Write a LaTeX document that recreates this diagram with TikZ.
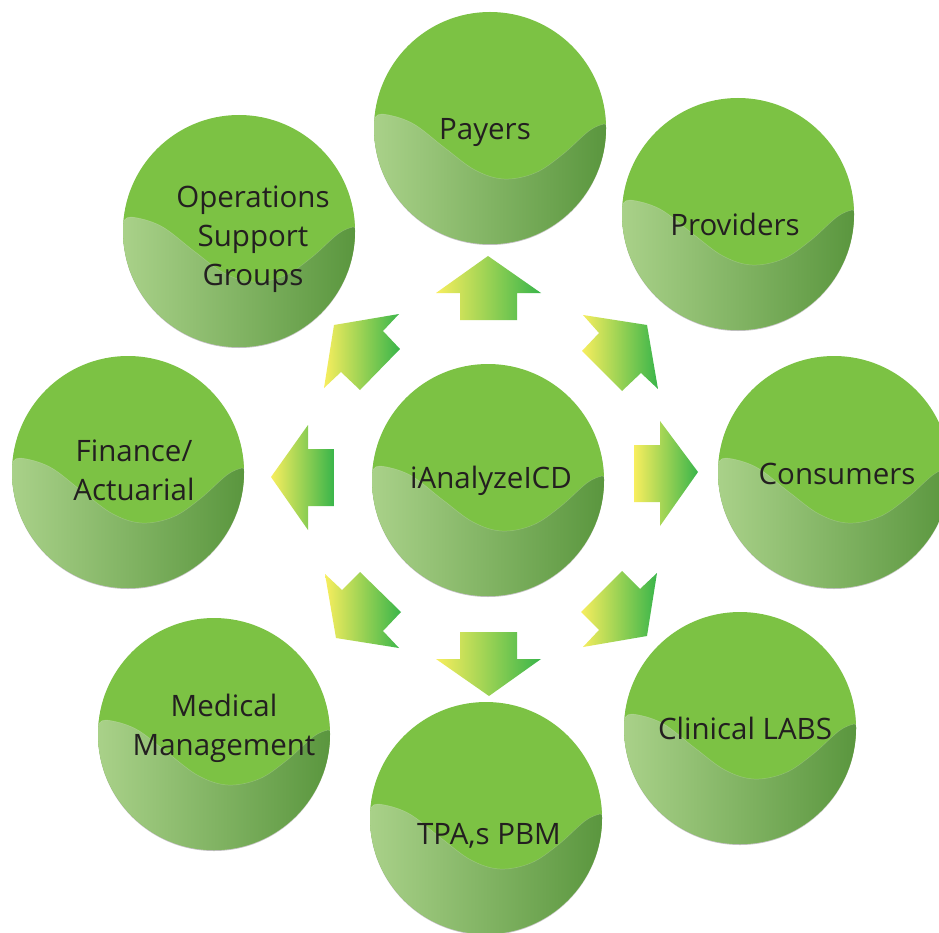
\documentclass[tikz,border=0pt]{standalone}
\usepackage{fontspec}
\setmainfont{Open Sans}
\definecolor{discgreen}{HTML}{7CC244}
\definecolor{waveleft}{HTML}{A9D189}
\definecolor{waveright}{HTML}{5A963E}
\definecolor{arrowyellow}{HTML}{F8EE5E}
\definecolor{arrowgreen}{HTML}{39B54A}
\definecolor{inkdark}{HTML}{231F20}
\tikzset{
  disc/.style={fill=discgreen},
  discshadow/.style={fill=black!25},
  waveedge/.style={draw=white,draw opacity=.2,line width=.5pt},
  flow/.style={left color=arrowyellow,right color=arrowgreen},
  label/.style={text=inkdark,align=center,font=\fontsize{29.5}{39}\selectfont,inner sep=0pt},
}
\newcommand{\bubble}[3]{%
  \begin{scope}[shift={(#2,#3)}]
    \fill[discshadow] (0,1) circle (116);
    \fill[disc] (0,0) coordinate (#1) circle (116);
    \begin{scope}
      \clip (0,0) circle (116);
      \shade[left color=waveleft,right color=waveright]
        (-116,-8) -- plot[smooth,tension=.6] coordinates {(-116,-8) (-108,-14) (-78,-5) (-45,20) (-15,42) (14,51) (45,45) (72,27) (99,3) (114,-4) (116,-2)}
        -- (116,116) -- (-116,116) -- cycle;
      \draw[waveedge] plot[smooth,tension=.6] coordinates {(-116,-8) (-108,-14) (-78,-5) (-45,20) (-15,42) (14,51) (45,45) (72,27) (99,3) (114,-4) (116,-2)};
    \end{scope}
  \end{scope}}
\begin{document}
\begin{tikzpicture}[x=1pt,y=-1pt]
\useasboundingbox (0,0) rectangle (939,933);
\clip (0,0) rectangle (939,933);
\fill[white] (0,0) rectangle (939,933);
\bubble{payersdisc}{490}{128}
\bubble{providersdisc}{738}{214}
\bubble{consumersdisc}{834}{472}
\bubble{clinicaldisc}{740}{728}
\bubble{tpadisc}{486}{818}
\bubble{medicaldisc}{214}{734}
\bubble{financedisc}{128}{472}
\bubble{operationsdisc}{239}{231}
\bubble{centerdisc}{488}{480}
% arrows
\shade[flow] (488,256) -- (541,293) -- (517,293) -- (517,320) -- (460,320) -- (460,293) -- (436,293) -- cycle;
\shade[flow] (583,315) -- (647,325) -- (658,389) -- (641,373) -- (622,391) -- (582,351) -- (599,333) -- cycle;
\shade[flow] (399,314) -- (334,325) -- (324,388) -- (341,372) -- (360,390) -- (400,349) -- (383,331) -- cycle;
\shade[flow] (634,445) -- (660,445) -- (660,421) -- (698,472) -- (660,526) -- (660,502) -- (634,502) -- cycle;
\shade[flow] (271,477) -- (308,425) -- (308,449) -- (334,449) -- (334,506) -- (308,506) -- (308,530) -- cycle;
\shade[flow] (460,632) -- (517,632) -- (517,659) -- (541,659) -- (489,696) -- (436,659) -- (460,659) -- cycle;
\shade[flow] (325,574) -- (342,590) -- (360,572) -- (401,612) -- (383,631) -- (399,648) -- (336,638) -- cycle;
\shade[flow] (657,573) -- (640,589) -- (622,571) -- (581,612) -- (599,630) -- (583,647) -- (647,636) -- cycle;
% labels
\node[label] (payers) at (485,132.5) {Payers};
\node[label] (providers) at (735,224) {Providers};
\node[label] (consumers) at (837,474) {Consumers};
\node[label] (clinical) at (745,728) {Clinical LABS};
\node[label] (tpa) at (489,836) {TPA,s PBM};
\node[label] (medical) at (224,728) {Medical\\Management};
\node[label] (finance) at (134,470) {Finance/\\Actuarial};
\node[label] (operations) at (253,239) {Operations\\Support\\Groups};
\node[label] (center) at (491,481) {iAnalyzeICD};
\end{tikzpicture}
\end{document}
